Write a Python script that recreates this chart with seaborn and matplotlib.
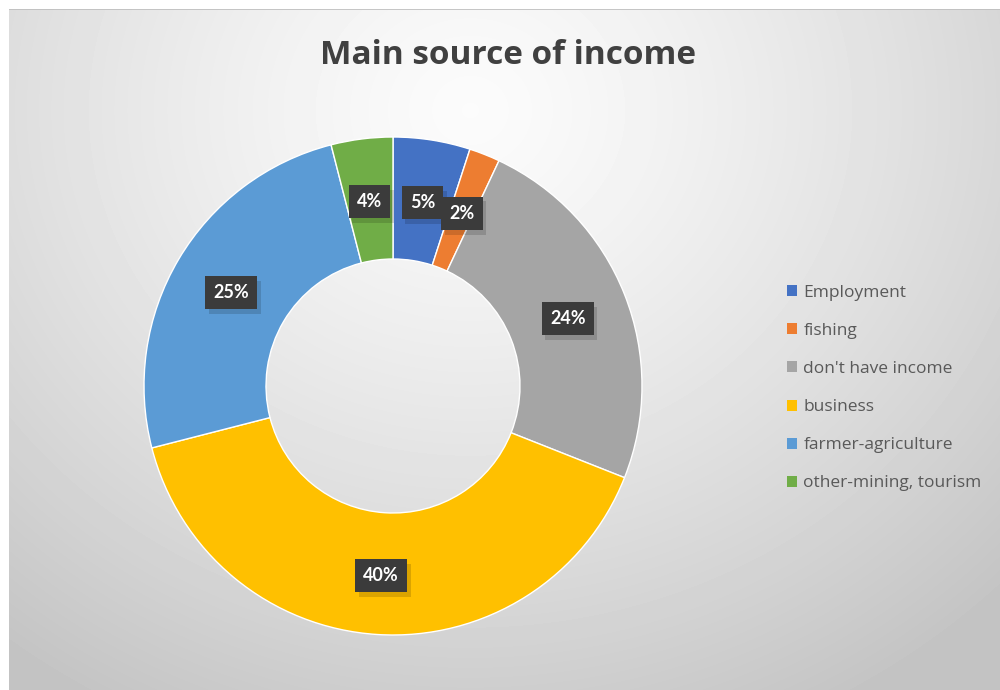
import numpy as np
import matplotlib
matplotlib.use("Agg")
import matplotlib.pyplot as plt
import matplotlib.patheffects as pe
from matplotlib.patches import Patch
import seaborn as sns

# Survey result: main source of income (percent of respondents)
categories = ["Employment", "fishing", "don't have income", "business",
              "farmer-agriculture", "other-mining, tourism"]
shares = [5, 2, 24, 40, 25, 4]
value_labels = ["5%", "2%", "24%", "40%", "25%", "4%"]
colors = ["#4472C4", "#ED7D31", "#A5A5A5", "#FFC000", "#5B9BD5", "#70AD47"]

sns.set_theme(style="white")
plt.rcParams["font.family"] = ["Lato", "DejaVu Sans"]
palette = sns.color_palette(colors)

W, H = 1000, 690
fig = plt.figure(figsize=(W / 100, H / 100), dpi=100)
fig.patch.set_facecolor("white")

# Chart area with a soft radial gradient
bg = fig.add_axes([9 / W, 0, (W - 9) / W, (H - 9) / H])
bg.set_axis_off()
yy, xx = np.mgrid[9:H, 9:W]
cx, cy = 470.0, 110.0
d = np.sqrt(((xx - cx) / 1.05) ** 2 + ((yy - cy) / 0.95) ** 2)
shade = 0.985 - 0.22 * np.clip(d / 720.0, 0, 1) ** 1.3
bg.imshow(shade, cmap="gray", vmin=0, vmax=1, aspect="auto",
          extent=[0, 1, 0, 1], origin="upper", interpolation="bilinear")
bg.set_xlim(0, 1)
bg.set_ylim(0, 1)
# thin darker edge along the top of the chart area
bg.axhline(1, color="#bdbdbd", lw=1.2)

# Donut
cxp, cyp, R = 393, 386, 249
ax = fig.add_axes([(cxp - R) / W, (H - cyp - R) / H, 2 * R / W, 2 * R / H])
ax.set_axis_off()
ring = 0.49
wedges, _ = ax.pie(shares, colors=palette, startangle=90, counterclock=False,
                   radius=1.0,
                   wedgeprops=dict(width=ring, edgecolor="white", linewidth=1.0))
ax.set_xlim(-1, 1)
ax.set_ylim(-1, 1)
ax.set_aspect("equal")

# Percentage labels in dark boxes at the middle of the ring
mid_r = 1.0 - ring / 2
for w, lab in zip(wedges, value_labels):
    ang = np.deg2rad((w.theta1 + w.theta2) / 2)
    x, y = mid_r * np.cos(ang), mid_r * np.sin(ang) - 0.008
    t = ax.text(x, y, lab, ha="center", va="center", fontsize=13,
                fontweight="bold", color="white",
                bbox=dict(boxstyle="square,pad=0.45", fc="#3b3b3b", ec="none"))
    t.get_bbox_patch().set_path_effects(
        [pe.SimplePatchShadow(offset=(2.5, -3.5), shadow_rgbFace="black", alpha=0.14),
         pe.Normal()])

# Title
fig.text(508 / W, 1 - 55 / H, "Main source of income", ha="center", va="center",
         fontsize=24, fontweight="bold", color="#404040",
         family=["Open Sans", "DejaVu Sans"])

# Legend
handles = [Patch(facecolor=c, edgecolor="none") for c in palette]
leg = fig.legend(handles, categories, loc="upper left",
                 bbox_to_anchor=(787 / W, 1 - 285 / H), frameon=False,
                 prop=dict(family=["Open Sans", "DejaVu Sans"], size=12.5),
                 labelcolor="#595959", handlelength=0.6,
                 handleheight=0.6, handletextpad=0.35, labelspacing=1.27,
                 borderaxespad=0, borderpad=0)

fig.savefig("out.png", dpi=100, facecolor=fig.get_facecolor())
